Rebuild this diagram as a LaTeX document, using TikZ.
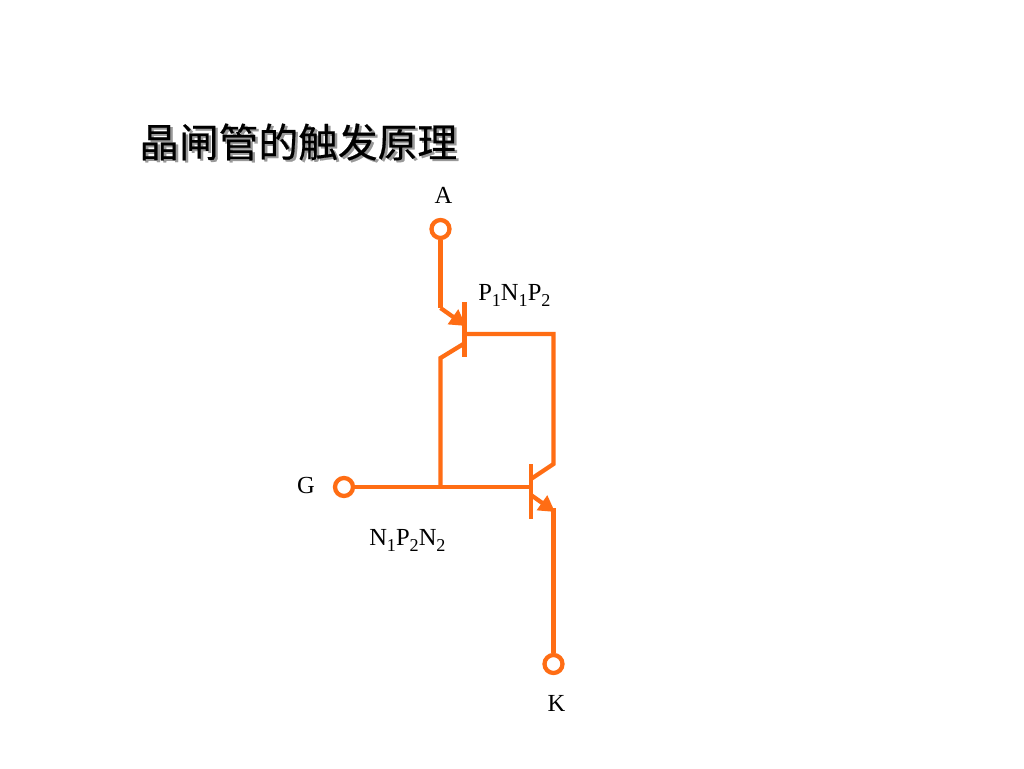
\documentclass[tikz,border=0pt]{standalone}
\usepackage{fontspec}
\setmainfont{Liberation Serif}
\newfontfamily\cjk[FakeBold=0.5]{Noto Sans CJK SC}
\usetikzlibrary{arrows.meta}
\definecolor{wire}{RGB}{255,109,20}
\newcommand{\lowsub}[1]{\raisebox{-0.25em}{\fontsize{13.6pt}{14pt}\selectfont #1}}
\tikzset{
  x=0.75pt,y=-0.75pt,
  wireline/.style={draw=wire,line width=3.2pt,line join=miter,line cap=butt},
  terminal/.style={circle,draw=wire,line width=3.2pt,fill=white,inner sep=0pt,minimum size=13.5pt},
  lab/.style={font=\fontsize{18.4pt}{20pt}\selectfont,text=black,inner sep=0pt},
  ttl/.style={font=\cjk\fontsize{29.8pt}{32pt}\selectfont,inner sep=0pt,anchor=west},
  tip/.style={-{Triangle[length=12pt,width=13pt,fill=wire,color=wire]}}
}
\begin{document}
\begin{tikzpicture}
\useasboundingbox (0,0) rectangle (1024,768);
\fill[white] (0,0) rectangle (1024,768);
% title with its soft shadow
\node[ttl,text=black!40] (titleshadow) at (141.5,144) {晶闸管的触发原理};
\node[ttl,text=black] (title) at (139,142) {晶闸管的触发原理};
% terminals
\node[terminal] (ta) at (440.5,229) {};
\node[terminal] (tg) at (344,487) {};
\node[terminal] (tk) at (553.5,664) {};
% junction coordinates
\coordinate (e1a) at (440.5,308);
\coordinate (e1b) at (466,326);
\coordinate (c1b) at (465,343);
\coordinate (c1a) at (440.5,358);
\coordinate (j)   at (440.5,487);
\coordinate (b1)  at (465,334);
\coordinate (r1)  at (553.5,334);
\coordinate (c2a) at (553.5,464);
\coordinate (c2b) at (531,479);
\coordinate (b2)  at (531,487);
\coordinate (e2b) at (531,495);
\coordinate (e2a) at (555,512);
\coordinate (e2c) at (553.5,508);
% bars
\draw[wireline] (464.5,302) -- (464.5,357);
\draw[wireline] (531,464) -- (531,519);
% upper transistor
\draw[wireline] (ta) -- (e1a);
\draw[wireline,tip] (e1a) -- (e1b);
\draw[wireline] (c1b) -- (c1a) -- (j);
\draw[wireline] (b1) -- (r1) -- (c2a) -- (c2b);
% lower transistor
\draw[wireline] (tg) -- (b2);
\draw[wireline,tip] (e2b) -- (e2a);
\draw[wireline] (e2c) -- (tk);
% labels
\node[lab] (la) at (443.5,195) {A};
\node[lab] (lg) at (306,485) {G};
\node[lab] (lk) at (556.5,703) {K};
\node[lab,anchor=base west] (lp) at (478,300) {P\lowsub{1}N\lowsub{1}P\lowsub{2}};
\node[lab,anchor=base west] (ln) at (369,545) {N\lowsub{1}P\lowsub{2}N\lowsub{2}};
\end{tikzpicture}
\end{document}
